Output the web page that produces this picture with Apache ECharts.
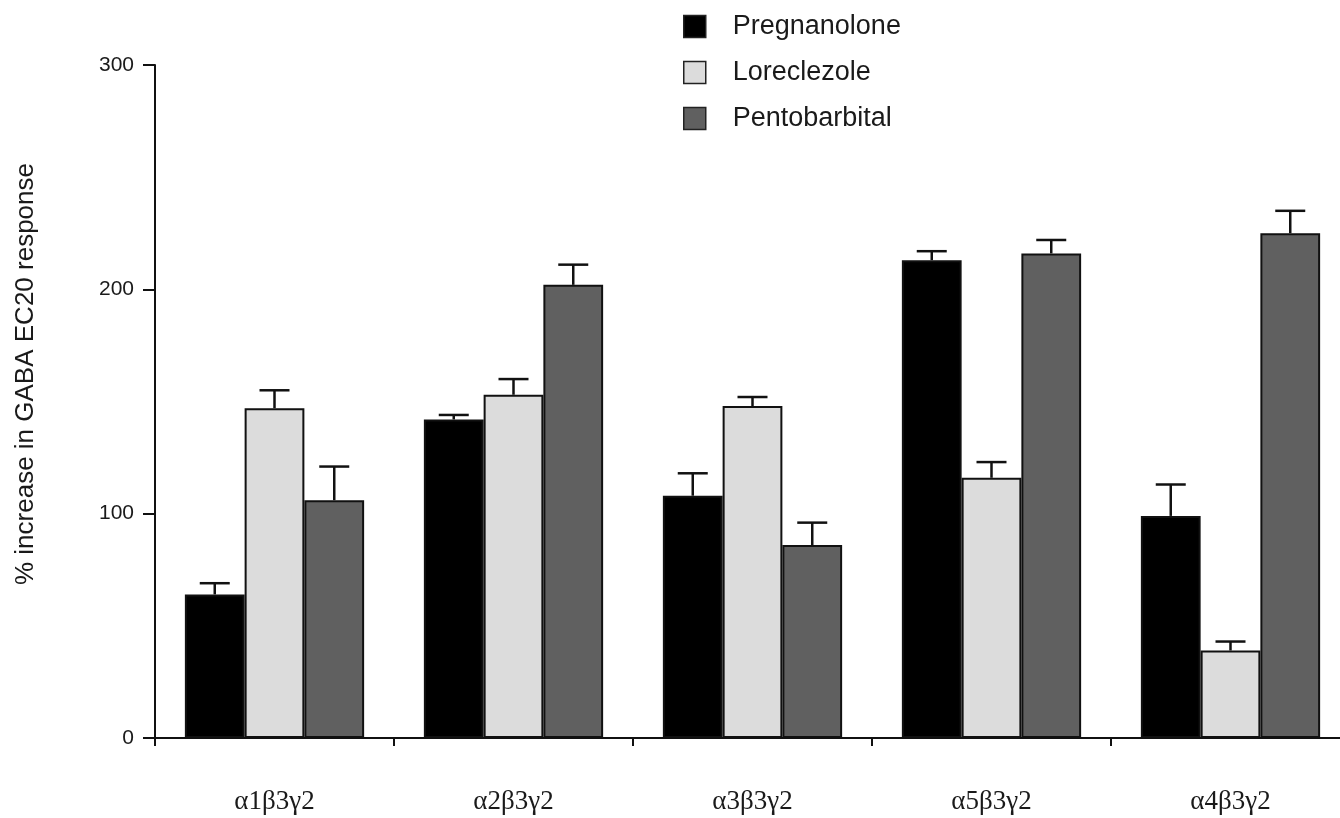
<!DOCTYPE html>
<html>
    <head>
        <meta charset="utf-8">
        <title>GABA EC20 response</title>
        <script src="https://cdn.jsdelivr.net/npm/echarts@6/dist/echarts.min.js"></script>
        <style>
            html, body { margin: 0; padding: 0; background: #fff; overflow: hidden; }
            #chart1 { width: 1352px; height: 818px; }
        </style>
    </head>
    <body>
        <div id="chart1"></div>
        <script type="text/javascript">
            // 数据
            var subunits = ['α1β3γ2', 'α2β3γ2', 'α3β3γ2', 'α5β3γ2', 'α4β3γ2'];
            var seriesNames = ['Pregnanolone', 'Loreclezole', 'Pentobarbital'];
            var pregnanolone = [64, 142, 108, 213, 99];
            var pregnanoloneErr = [5, 2, 10, 4, 14];
            var loreclezole = [147, 153, 148, 116, 39];
            var loreclezoleErr = [8, 7, 4, 7, 4];
            var pentobarbital = [106, 202, 86, 216, 225];
            var pentobarbitalErr = [15, 9, 10, 6, 10];
            var yTicks = [0, 100, 200, 300];
            var yTitle = '% increase in GABA EC20 response';

            var colors = ['#000000', '#dcdcdc', '#606060'];
            var values = [pregnanolone, loreclezole, pentobarbital];
            var errs = [pregnanoloneErr, loreclezoleErr, pentobarbitalErr];

            var myChart1 = echarts.init(document.getElementById('chart1'));

            // 误差线（只画上半部分）
            function errorSeries(k) {
                var data = values[k].map(function (v, i) {
                    return [i, v, v + errs[k][i]];
                });
                return {
                    type: 'custom',
                    name: seriesNames[k] + ' err',
                    z: 1,
                    silent: true,
                    data: data,
                    encode: { x: 0, y: [1, 2] },
                    renderItem: function (params, api) {
                        var band = api.size([1, 0])[0];
                        var base = api.coord([api.value(0), api.value(1)]);
                        var top = api.coord([api.value(0), api.value(2)]);
                        var x = base[0] + (k - 1) * band * 0.25;
                        var half = 15;
                        var st = { stroke: '#111', lineWidth: 2.5 };
                        return {
                            type: 'group',
                            children: [
                                { type: 'line', shape: { x1: x, y1: base[1], x2: x, y2: top[1] }, style: st },
                                { type: 'line', shape: { x1: x - half, y1: top[1], x2: x + half, y2: top[1] }, style: st }
                            ]
                        };
                    }
                };
            }

            var series = [];
            for (var k = 0; k < 3; k++) {
                series.push({
                    name: seriesNames[k],
                    type: 'bar',
                    z: 2,
                    barWidth: '25%',
                    barGap: '0%',
                    data: values[k],
                    itemStyle: {
                        color: colors[k],
                        borderColor: '#111',
                        borderWidth: 2
                    }
                });
            }
            for (var k2 = 0; k2 < 3; k2++) {
                series.push(errorSeries(k2));
            }

            var option = {
                animation: false,
                backgroundColor: '#ffffff',
                textStyle: { fontFamily: 'Liberation Sans' },
                legend: {
                    data: seriesNames,
                    orient: 'vertical',
                    left: 683,
                    top: 13,
                    padding: 0,
                    icon: 'rect',
                    itemWidth: 22,
                    itemHeight: 22,
                    itemGap: 19,
                    itemStyle: { borderColor: '#222', borderWidth: 1.5 },
                    textStyle: {
                        fontSize: 27,
                        color: '#1a1a1a',
                        fontFamily: 'Liberation Sans',
                        padding: [0, 0, 0, 22]
                    }
                },
                graphic: [{
                    type: 'text',
                    x: 26,
                    y: 374,
                    rotation: Math.PI / 2,
                    style: {
                        text: yTitle,
                        font: '26px "Liberation Sans"',
                        fill: '#1a1a1a',
                        textAlign: 'center',
                        textVerticalAlign: 'middle'
                    }
                }],
                grid: {
                    left: 155,
                    top: 65,
                    right: 2,
                    height: 673,
                    containLabel: false
                },
                xAxis: {
                    type: 'category',
                    data: subunits,
                    axisLine: { lineStyle: { color: '#111', width: 2 } },
                    axisTick: { show: true, length: 8, inside: false, lineStyle: { color: '#111', width: 2 } },
                    axisLabel: {
                        margin: 50,
                        fontSize: 27,
                        color: '#1a1a1a',
                        fontFamily: 'Liberation Serif'
                    }
                },
                yAxis: {
                    type: 'value',
                    min: yTicks[0],
                    max: yTicks[yTicks.length - 1],
                    interval: 100,
                    axisLine: { show: true, lineStyle: { color: '#111', width: 2 } },
                    axisTick: { show: true, length: 12, lineStyle: { color: '#111', width: 2 } },
                    splitLine: { show: false },
                    axisLabel: {
                        margin: 21,
                        fontSize: 21,
                        color: '#1a1a1a',
                        fontFamily: 'Liberation Sans'
                    }
                },
                series: series
            };
            myChart1.setOption(option);
        </script>
    </body>
</html>
